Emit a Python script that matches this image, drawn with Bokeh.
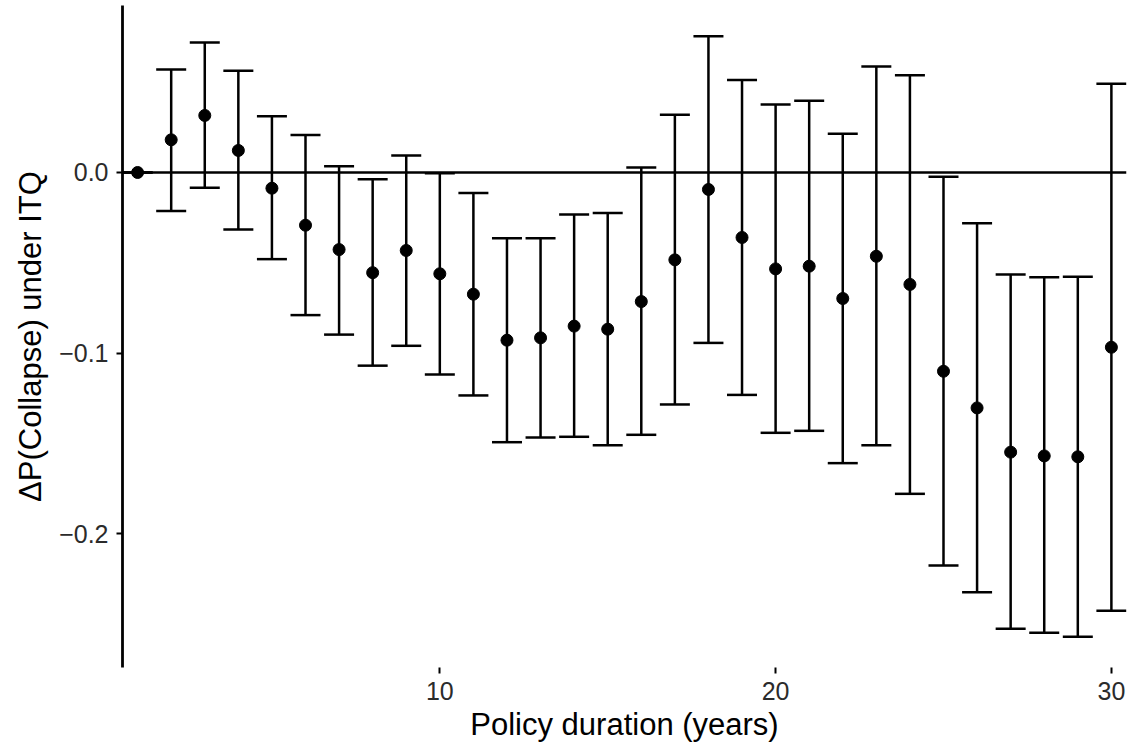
from bokeh.plotting import figure
from bokeh.models import Whisker, TeeHead, Span, ColumnDataSource, FixedTicker, Range1d
from bokeh.embed import file_html
from bokeh.resources import INLINE

# ---- data ----
duration = list(range(1, 31))
estimate = [0.0, 0.0181, 0.0316, 0.0122, -0.0087, -0.0292, -0.0427, -0.0555, -0.0432, -0.0561,
            -0.0674, -0.0929, -0.0916, -0.0851, -0.0868, -0.0715, -0.0484, -0.0094, -0.0360, -0.0534,
            -0.0519, -0.0698, -0.0464, -0.0620, -0.1101, -0.1304, -0.1549, -0.1570, -0.1575, -0.0968]
upper = [0.0, 0.0571, 0.0720, 0.0563, 0.0312, 0.0207, 0.0035, -0.0037, 0.0094, -0.0004,
         -0.0113, -0.0364, -0.0364, -0.0233, -0.0224, 0.0027, 0.0320, 0.0755, 0.0513, 0.0377,
         0.0397, 0.0214, 0.0587, 0.0539, -0.0024, -0.0281, -0.0565, -0.0580, -0.0577, 0.0491]
lower = [0.0, -0.0214, -0.0085, -0.0316, -0.0480, -0.0790, -0.0898, -0.1070, -0.0960, -0.1119,
         -0.1235, -0.1494, -0.1468, -0.1464, -0.1511, -0.1453, -0.1285, -0.0944, -0.1232, -0.1442,
         -0.1431, -0.1610, -0.1511, -0.1780, -0.2177, -0.2325, -0.2528, -0.2550, -0.2571, -0.2427]

x_ticks = [10, 20, 30]
y_ticks = [0.0, -0.1, -0.2]
y_tick_labels = ["0.0", "\u22120.1", "\u22120.2"]

x_title = "Policy duration (years)"
y_title = "\u0394P(Collapse) under ITQ"

FONT = "Liberation Sans"

src = ColumnDataSource(dict(x=duration, est=estimate, upper=upper, lower=lower))

p = figure(width=1131, height=749, output_backend="svg", toolbar_location=None,
           x_range=Range1d(0.55, 30.45), y_range=Range1d(-0.2742, 0.0925),
           min_border_left=122, min_border_right=5, min_border_top=5, min_border_bottom=82)
p.outline_line_color = None
p.xgrid.visible = False
p.ygrid.visible = False
p.background_fill_color = "white"
p.border_fill_color = "white"

# zero reference line
p.add_layout(Span(location=0, dimension="width", line_color="black", line_width=2.5))

# error bars
wh = Whisker(base="x", upper="upper", lower="lower", source=src,
             line_color="black", line_width=2.5,
             upper_head=TeeHead(size=30, line_color="black", line_width=2.5),
             lower_head=TeeHead(size=30, line_color="black", line_width=2.5))
p.add_layout(wh)

# points
p.scatter("x", "est", source=src, size=12, fill_color="black", line_color="black")

# axes
for ax in (p.xaxis[0], p.yaxis[0]):
    ax.major_label_text_font = FONT
    ax.major_label_text_font_size = "25px"
    ax.major_label_text_color = "#2b2b2b"
    ax.axis_label_text_font = FONT
    ax.axis_label_text_font_size = "31px"
    ax.axis_label_text_font_style = "normal"
    ax.axis_label_text_color = "black"
    ax.major_tick_line_color = "black"
    ax.major_tick_line_width = 2
    ax.major_tick_out = 6
    ax.major_tick_in = 0
    ax.minor_tick_line_color = None

p.xaxis.ticker = FixedTicker(ticks=x_ticks)
p.xaxis.axis_line_color = None
p.xaxis.axis_label = x_title
p.xaxis.major_label_standoff = 8
p.xaxis.axis_label_standoff = 4

p.yaxis.ticker = FixedTicker(ticks=y_ticks)
p.yaxis.major_label_overrides = {t: l for t, l in zip(y_ticks, y_tick_labels)}
p.yaxis.axis_line_color = "black"
p.yaxis.axis_line_width = 2.8
p.yaxis.axis_label = y_title
p.yaxis.major_label_standoff = 8
p.yaxis.axis_label_standoff = 8

open("out.html", "w").write(file_html(p, INLINE))
